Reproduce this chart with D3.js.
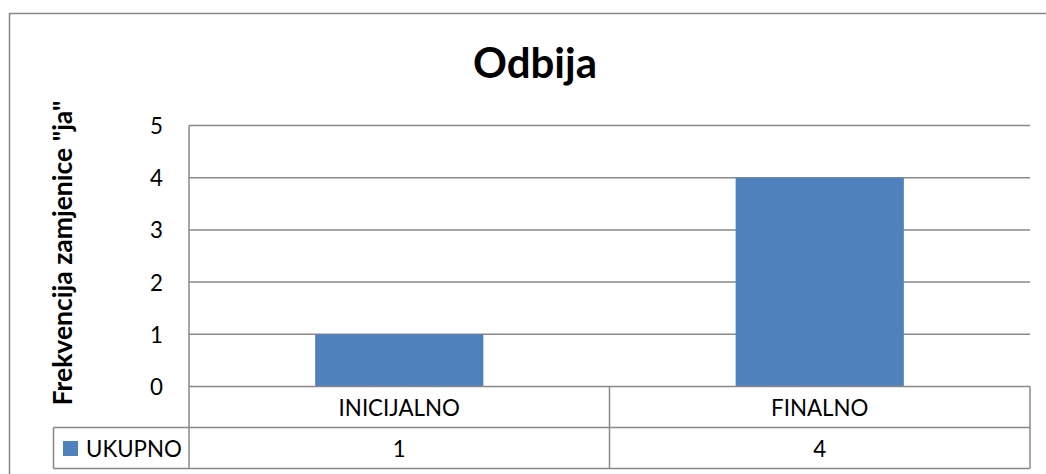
<!DOCTYPE html>
<html>
<head>
    <meta charset="utf-8" />
    <title>Odbija</title>
    <script src="https://d3js.org/d3.v7.min.js"></script>
    <style type='text/css'>
        body { margin: 0; background: #fff; }
        text { font-family: Lato, "Open Sans", sans-serif; fill: #000; }
        .grid line, .frame { stroke: #898989; stroke-width: 1.5; }
    </style>
</head>
<body>
    <script>
        // data
        var categories = ['INICIJALNO', 'FINALNO'];
        var values = [1, 4];
        var seriesName = 'UKUPNO';
        var yTicks = [0, 1, 2, 3, 4, 5];
        var title = 'Odbija';
        var yLabel = 'Frekvencija zamjenice "ja"';

        var width = 1046
            , height = 474
            , plotLeft = 189
            , plotRight = 1030
            , plotTop = 125.5
            , plotBottom = 386.5
            , rowH = 41
            , legendX = 53.5
            , fs = '22.3px'
            , barColor = '#4f81bd';

        var svg = d3.select('body').append('svg')
            .attr('width', width)
            .attr('height', height);

        // outer chart border (runs off the picture at right and bottom)
        svg.append('rect')
            .attr('x', 9.5).attr('y', 13.5)
            .attr('width', 1100).attr('height', 600)
            .attr('fill', 'none')
            .attr('stroke', '#868686').attr('stroke-width', 1.5);

        var y = d3.scaleLinear()
            .domain([0, 5])
            .range([plotBottom, plotTop]);

        var x = d3.scaleBand()
            .domain(categories)
            .range([plotLeft, plotRight])
            .paddingInner(0.6)
            .paddingOuter(0.3);

        var cell = d3.scaleBand()
            .domain(categories)
            .range([plotLeft, plotRight]);

        // gridlines
        svg.append('g').attr('class', 'grid')
            .selectAll('line')
            .data(yTicks.slice(1))
            .enter().append('line')
            .attr('x1', plotLeft).attr('x2', plotRight)
            .attr('y1', d => y(d)).attr('y2', d => y(d));

        // bars
        svg.append('g').selectAll('rect')
            .data(values)
            .enter().append('rect')
            .attr('x', (d, i) => x(categories[i]))
            .attr('width', x.bandwidth())
            .attr('y', d => y(d))
            .attr('height', d => y(0) - y(d))
            .attr('fill', barColor);

        // y axis labels
        var ax_y = d3.axisLeft(y)
            .tickValues(yTicks)
            .tickSize(0)
            .tickPadding(26)
            .tickFormat(String);

        var gy = svg.append('g')
            .attr('transform', `translate(${plotLeft},0)`)
            .call(ax_y);
        gy.select('.domain').remove();
        gy.selectAll('text')
            .attr('font-family', null)
            .attr('font-size', null)
            .style('font-size', fs)
            .attr('dy', '0.36em');

        // data table frame
        var t1 = plotBottom, t2 = plotBottom + rowH, t3 = plotBottom + 2 * rowH;
        var segs = [
            [plotLeft, plotTop, plotLeft, t3],
            [plotLeft, t1, plotRight, t1],
            [legendX, t2, plotRight, t2],
            [legendX, t3, plotRight, t3],
            [legendX, t2, legendX, t3],
            [plotRight, t1, plotRight, t3]
        ];
        categories.slice(1).forEach(c => segs.push([cell(c), t1, cell(c), t3]));
        svg.append('g').selectAll('line')
            .data(segs)
            .enter().append('line')
            .attr('class', 'frame')
            .attr('x1', d => d[0]).attr('y1', d => d[1])
            .attr('x2', d => d[2]).attr('y2', d => d[3]);

        // category row
        svg.append('g').selectAll('text')
            .data(categories)
            .enter().append('text')
            .attr('x', d => cell(d) + cell.bandwidth() / 2)
            .attr('y', t1 + 29.5)
            .attr('text-anchor', 'middle')
            .style('font-size', fs)
            .text(d => d);

        // value row
        svg.append('g').selectAll('text')
            .data(values)
            .enter().append('text')
            .attr('x', (d, i) => cell(categories[i]) + cell.bandwidth() / 2)
            .attr('y', t2 + 29.5)
            .attr('text-anchor', 'middle')
            .style('font-size', fs)
            .text(d => d);

        // legend key in table
        svg.append('rect')
            .attr('x', 63).attr('y', t2 + 13.5)
            .attr('width', 15).attr('height', 15)
            .attr('fill', barColor);
        svg.append('text')
            .attr('x', 86).attr('y', t2 + 29.5)
            .style('font-size', fs)
            .text(seriesName);

        // title
        svg.append('text')
            .attr('x', 535).attr('y', 78)
            .attr('text-anchor', 'middle')
            .style('font-size', '42px')
            .style('font-weight', 'bold')
            .text(title);

        // y axis title
        svg.append('text')
            .attr('transform', `translate(72,253) rotate(-90)`)
            .attr('text-anchor', 'middle')
            .style('font-size', '26.5px')
            .style('font-weight', 'bold')
            .text(yLabel);
    </script>
</body>
</html>
